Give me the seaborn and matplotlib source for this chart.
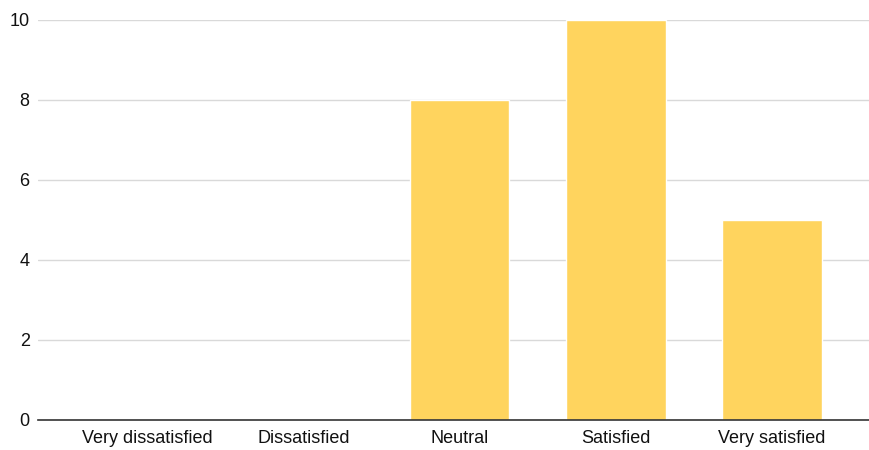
import matplotlib
matplotlib.use("Agg")
import matplotlib.pyplot as plt
import seaborn as sns
import pandas as pd

# Survey responses
categories = ["Very dissatisfied", "Dissatisfied", "Neutral", "Satisfied", "Very satisfied"]
counts = [0, 0, 8, 10, 5]
y_ticks = [0, 2, 4, 6, 8, 10]

df = pd.DataFrame({"Response": categories, "Count": counts})

sns.set_theme(style="white")
plt.rcParams["font.family"] = ["Liberation Sans", "DejaVu Sans"]

fig = plt.figure(figsize=(8.7, 4.5), dpi=100)
ax = fig.add_axes([38 / 870, 1 - 420 / 450, 1 - 38 / 870, 400 / 450])

sns.barplot(data=df, x="Response", y="Count", color="#FFD45E", saturation=1,
            width=0.64, ax=ax, zorder=2)

ax.set_ylim(0, 10)
ax.set_xlim(-0.7, 4.63)
ax.set_yticks(y_ticks)
ax.yaxis.grid(True, color="#d9d9d9", linewidth=1, zorder=0)
ax.set_axisbelow(True)
ax.set_xlabel("")
ax.set_ylabel("")
for side in ["top", "right", "left"]:
    ax.spines[side].set_visible(False)
ax.spines["bottom"].set_color("#333333")
ax.spines["bottom"].set_linewidth(1.2)
ax.tick_params(axis="both", length=0, labelsize=13, labelcolor="#111111")
ax.tick_params(axis="y", pad=6)
ax.tick_params(axis="x", pad=7)

fig.savefig("out.png", dpi=100)
